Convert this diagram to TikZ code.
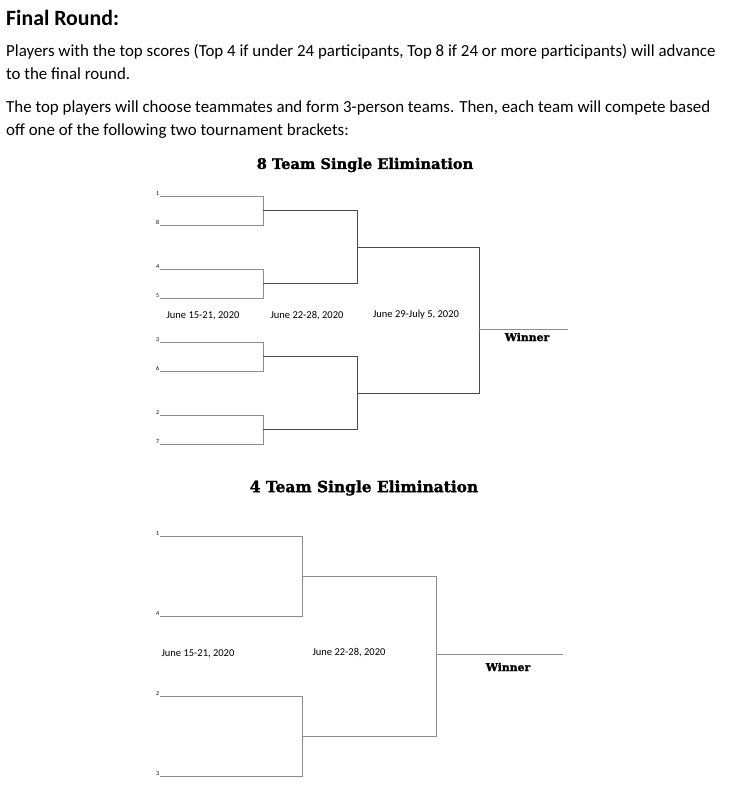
\documentclass[tikz,border=0pt]{standalone}
\usepackage{fontspec}
\setmainfont{Carlito}
\newfontfamily\slabfont[BoldFeatures={FakeBold=1.6}]{DejaVu Serif}
\usetikzlibrary{positioning}

\definecolor{linegray}{HTML}{8C8C8C}
\definecolor{darkline}{HTML}{4A4A4A}

\tikzset{
  seedline/.style={draw=linegray, line width=0.9pt},
  roundline/.style={draw=darkline, line width=0.9pt},
  seed/.style={font=\fontsize{6}{7}\selectfont, anchor=south east, inner sep=0.6pt},
  datelabel/.style={font=\fontsize{10.5}{12}\selectfont, inner sep=0pt},
  brackettitle/.style={font=\slabfont\bfseries\fontsize{14.6}{17}\selectfont, inner sep=0pt},
  winnerlabel/.style={font=\slabfont\bfseries\fontsize{10.8}{13}\selectfont, inner sep=0pt},
  bodytext/.style={anchor=base west, inner sep=0pt, font=\fontsize{16.9}{19}\selectfont}
}

\begin{document}
\begin{tikzpicture}[x=1pt,y=-1pt]
  \useasboundingbox (0,0) rectangle (732,787);
  % Intro text
  \node[bodytext, font=\bfseries\fontsize{21.8}{24}\selectfont] (head) at (6,25) {Final Round:};
  \node[bodytext] (par1a) at (6,56) {Players with the top scores (Top 4 if under 24 participants, Top 8 if 24 or more participants) will advance};
  \node[bodytext] (par1b) at (6,79) {to the final round.};
  \node[bodytext] (par2a) at (6,112) {The top players will choose teammates and form 3-person teams. Then, each team will compete based};
  \node[bodytext] (par2b) at (6,135) {off one of the following two tournament brackets:};

  % 8 team bracket
  \node[brackettitle] (title8) at (365,165) {8 Team Single Elimination};
  \foreach \s/\y in {1/196, 8/225, 4/269, 5/298, 3/342, 6/371, 2/415, 7/444}{
    \coordinate (e\s) at (160,\y);
    \node[seed] (ne\s) at (e\s) {\s};
  }
  \coordinate (q1) at (263,210.5);
  \coordinate (q2) at (263,283.5);
  \coordinate (q3) at (263,356.5);
  \coordinate (q4) at (263,429.5);
  \coordinate (s1) at (357,247);
  \coordinate (s2) at (357,393);
  \coordinate (w8) at (479,329);
  \coordinate (w8end) at (568,329);
  \foreach \a/\b/\q in {e1/e8/q1, e4/e5/q2, e3/e6/q3, e2/e7/q4}
    \draw[seedline] (\a) -| (\q |- \b) -- (\b);
  \foreach \a/\b/\s in {q1/q2/s1, q3/q4/s2}
    \draw[roundline] (\a) -| (\s |- \b) -- (\b);
  \draw[roundline] (s1) -| (w8 |- s2) -- (s2);
  \draw[seedline] (w8) -- (w8end);
  \node[winnerlabel] (win8) at (527,337) {Winner};
  \node[datelabel] (d81) at (203,316) {June 15-21, 2020};
  \node[datelabel] (d82) at (307,316) {June 22-28, 2020};
  \node[datelabel] (d83) at (416,315) {June 29-July 5, 2020};

  % 4 team bracket
  \node[brackettitle, font=\slabfont\bfseries\fontsize{15.4}{18}\selectfont] (title4) at (364,488) {4 Team Single Elimination};
  \foreach \s/\y in {1/536, 4/616, 2/696, 3/776}{
    \coordinate (f\s) at (160,\y);
    \node[seed] (nf\s) at (f\s) {\s};
  }
  \coordinate (t1) at (302,576);
  \coordinate (t2) at (302,736);
  \coordinate (w4) at (436,654);
  \coordinate (w4end) at (563,654);
  \foreach \a/\b/\q in {f1/f4/t1, f2/f3/t2}
    \draw[seedline] (\a) -| (\q |- \b) -- (\b);
  \draw[seedline] (t1) -| (w4 |- t2) -- (t2);
  \draw[seedline] (w4) -- (w4end);
  \node[winnerlabel] (win4) at (508,667) {Winner};
  \node[datelabel] (d41) at (198,654) {June 15-21, 2020};
  \node[datelabel] (d42) at (349,653) {June 22-28, 2020};
\end{tikzpicture}
\end{document}
